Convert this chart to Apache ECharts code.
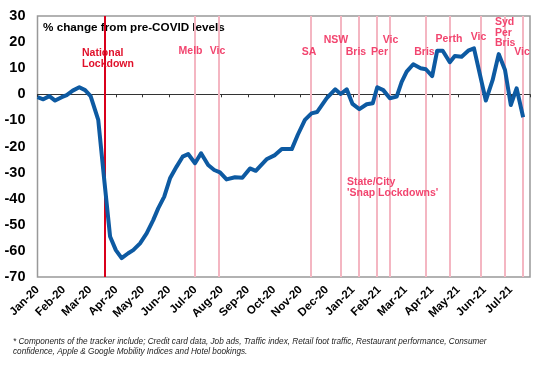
<!DOCTYPE html>
<html><head><meta charset="utf-8">
<script src="https://cdn.jsdelivr.net/npm/echarts@6/dist/echarts.min.js"></script>
<style>html,body{margin:0;padding:0;background:#fff}#c{width:548px;height:366px}</style>
</head><body><div id="c"></div>
<script>
// x positions in months since 1 Jan 2020 (0 = Jan-20)
var monthPos = [0,0.22,0.45,0.67,0.92,1.11,1.34,1.59,1.81,2.02,2.31,2.53,2.76,2.98,3.2,3.45,3.64,3.9,4.15,4.4,4.59,4.82,5.04,5.29,5.52,5.73,5.99,6.22,6.49,6.72,6.94,7.19,7.51,7.79,8.08,8.3,8.71,9.03,9.29,9.67,9.9,10.17,10.42,10.63,11.0,11.32,11.53,11.76,11.98,12.24,12.52,12.75,12.92,13.15,13.4,13.66,13.85,14.04,14.29,14.57,14.77,15.01,15.2,15.41,15.68,15.87,16.13,16.38,16.6,17.05,17.31,17.54,17.78,18.0,18.22,18.47];
var values = [-1.1,-1.9,-0.7,-2.4,-1.1,-0.3,1.4,2.7,1.6,-0.7,-9.8,-32,-54.5,-59.7,-62.8,-60.9,-59.7,-57.1,-53.3,-48.2,-43.7,-39.2,-32.2,-27.7,-23.9,-22.9,-26.4,-22.6,-27.1,-29.0,-29.9,-32.6,-31.8,-32.0,-28.4,-29.3,-24.9,-23.3,-21,-21,-15.5,-9.8,-7.3,-6.8,-1.5,1.9,0.1,1.9,-3.7,-5.7,-3.8,-3.4,2.7,1.6,-1.5,-0.9,4.8,8.7,11.5,10,9.6,7,16.7,16.7,12.3,14.7,14.4,16.7,17.6,-2.4,5.5,15.4,9.3,-4.1,2.3,-8.8];
var monthLabels = ['Jan-20','Feb-20','Mar-20','Apr-20','May-20','Jun-20','Jul-20','Aug-20','Sep-20','Oct-20','Nov-20','Dec-20','Jan-21','Feb-21','Mar-21','Apr-21','May-21','Jun-21','Jul-21'];
var nationalLockdown = 2.54;
var snapLockdowns = [5.99,6.91,10.39,11.53,12.22,12.91,13.39,14.77,15.68,16.85,17.78,18.46];
var yTicks = [-70,-60,-50,-40,-30,-20,-10,0,10,20,30];

var chart = echarts.init(document.getElementById('c'));
var font = 'Liberation Sans, Arial, sans-serif';
var pink = '#f4b6c2';
var labPink = '#f2456f';
var mlData = [{xAxis: nationalLockdown, lineStyle: {color: '#d9001b', width: 2, type: 'solid'}}]
  .concat(snapLockdowns.map(function(v){return {xAxis: v, lineStyle: {color: pink, width: 2, type: 'solid'}};}));

function txt(x, y, t, color, align) {
  return {type: 'text', x: x, y: y, z: 100, style: {text: t, fill: color, font: 'bold 10.5px ' + font, textAlign: align || 'center', textVerticalAlign: 'middle'}};
}

chart.setOption({
  animation: false,
  grid: {left: 37.5, right: 18, top: 16, bottom: 89, show: true, borderColor: '#999', borderWidth: 1.5},
  xAxis: [{
    type: 'value', min: 0, max: 18.73, interval: 1,
    axisLine: {show: false, onZero: false}, axisTick: {show: false}, splitLine: {show: false},
    axisLabel: {rotate: 45, margin: 11, color: '#000', fontWeight: 'bold', fontSize: 11.5, fontFamily: font,
      formatter: function(v){ var i = Math.round(v); return (Math.abs(v - i) < 1e-6 && monthLabels[i]) ? monthLabels[i] : ''; }}
  }, {
    type: 'value', min: 0, max: 18.73, interval: 1, position: 'bottom',
    axisLine: {show: true, onZero: true, lineStyle: {color: '#333', width: 1}},
    axisTick: {show: true, length: 3, inside: false, lineStyle: {color: '#333'}},
    axisLabel: {show: false}, splitLine: {show: false}
  }],
  yAxis: {
    type: 'value', min: -70, max: 30, interval: 10,
    axisLine: {show: false}, axisTick: {show: false}, splitLine: {show: false},
    axisLabel: {color: '#000', fontWeight: 'bold', fontSize: 14.5, fontFamily: font, margin: 12,
      formatter: function(v){ return yTicks.indexOf(v) >= 0 ? String(v) : ''; }}
  },
  series: [{
    type: 'line', xAxisIndex: 0,
    data: monthPos.map(function(x, i){ return [x, values[i]]; }),
    showSymbol: false, symbol: 'none',
    lineStyle: {color: '#0d5aa2', width: 4, join: 'round'},
    z: 5,
    markLine: {silent: true, symbol: 'none', label: {show: false}, z: 2, data: mlData}
  }],
  graphic: [
    {type: 'text', x: 43, y: 28, style: {text: '% change from pre-COVID levels', fill: '#000', font: 'bold 11.7px ' + font, textVerticalAlign: 'middle'}},
    txt(82, 53, 'National', '#e0102a', 'left'),
    txt(82, 64, 'Lockdown', '#e0102a', 'left'),
    txt(190.5, 51, 'Melb', labPink), txt(217.5, 51, 'Vic', labPink),
    txt(309, 52, 'SA', labPink), txt(336, 40, 'NSW', labPink), txt(356, 52, 'Bris', labPink),
    txt(379.5, 52, 'Per', labPink), txt(390.5, 40, 'Vic', labPink), txt(424.5, 52, 'Bris', labPink),
    txt(449, 39, 'Perth', labPink), txt(478.5, 37, 'Vic', labPink),
    txt(495, 22, 'Syd', labPink, 'left'), txt(495, 33, 'Per', labPink, 'left'), txt(495, 43, 'Bris', labPink, 'left'),
    txt(522, 52, 'Vic', labPink),
    txt(347, 182, 'State/City', labPink, 'left'),
    txt(347, 193, "'Snap Lockdowns'", labPink, 'left'),
    {type: 'text', x: 13, y: 342, style: {text: '* Components of the tracker include; Credit card data, Job ads, Traffic index, Retail foot traffic, Restaurant performance, Consumer', fill: '#222', font: 'italic 8.2px ' + font, textVerticalAlign: 'middle'}},
    {type: 'text', x: 13, y: 351.5, style: {text: 'confidence, Apple & Google Mobility Indices and Hotel bookings.', fill: '#222', font: 'italic 8.2px ' + font, textVerticalAlign: 'middle'}}
  ]
});
</script></body></html>
